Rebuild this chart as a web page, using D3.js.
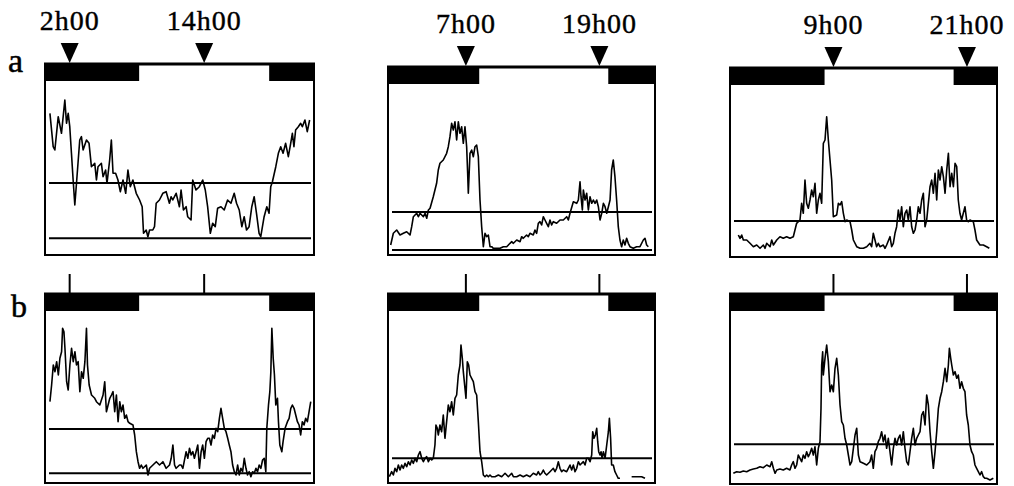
<!DOCTYPE html>
<html>
<head>
<meta charset="utf-8">
<script src="https://cdn.jsdelivr.net/npm/d3@7"></script>
<style>
  html, body { margin: 0; padding: 0; background: #fff; }
  svg { display: block; }
  text { font-family: "Liberation Serif", "Times New Roman", Times, serif; fill: #000; }
</style>
</head>
<body>
<svg id="chart" width="1014" height="486"></svg>
<script>
// Row labels and sampling times marked above each record
const rowLabels = ["a", "b"];
const sampleHours = [[2, 14], [7, 19], [9, 21]];
const sampleLabels = [["2h00", "14h00"], ["7h00", "19h00"], ["9h00", "21h00"]];

// Dark phases of the light/dark cycle (clock hours)
const darkPeriods = [[-1, 8.2], [19.8, 25]];

// Clock hour at the left edge of each 24 h record (by column)
const recordStart = [-0.2, 0, -0.3];

// Reference levels: mean activity and baseline (arbitrary units), rows a / b
const meanLevels = [[72, 43, 36], [54, 24.7, 39.7]];
const baseLevels = [[16.7, 5, null], [9.7, null, null]];

// Activity traces: [clock hour, activity (a.u.)]
const traceA1 = [[0.24,141.7],[0.53,108.3],[0.68,105],[0.98,138.3],[1.27,121.7],[1.57,155],[1.72,131.7],[1.87,141.7],[2.01,128.3],[2.16,101.7],[2.31,75],[2.46,50],[2.61,71.7],[2.9,115],[3.05,118.3],[3.2,105],[3.5,115],[3.73,111.7],[3.94,88.3],[4.24,91.7],[4.39,75],[4.53,88.3],[4.83,91.7],[4.98,78.3],[5.21,85],[5.33,71.7],[5.57,95],[5.72,115],[5.87,81.7],[6.1,81.7],[6.31,75],[6.52,63.3],[6.76,75],[7.0,61.7],[7.2,85],[7.41,68.3],[7.64,75],[7.79,68.3],[7.94,61.7],[8.24,55],[8.47,48.3],[8.59,21.7],[8.83,25],[8.98,18.3],[9.13,25],[9.42,25],[9.57,28.3],[9.72,51.7],[10.01,55],[10.31,61.7],[10.61,63.3],[10.9,51.7],[11.05,58.3],[11.2,55],[11.5,61.7],[11.79,48.3],[11.94,65],[12.15,45],[12.39,48.3],[12.53,38.3],[12.83,35],[12.98,75],[13.27,65],[13.57,68.3],[13.87,75],[14.1,65],[14.31,48.3],[14.55,21.7],[14.76,31.7],[14.99,28.3],[15.2,46.7],[15.5,48.3],[15.79,45],[16.09,55],[16.39,51.7],[16.68,61.7],[16.89,51.7],[17.13,45],[17.36,28.3],[17.57,38.3],[17.78,25],[18.01,28.3],[18.25,48.3],[18.46,58.3],[18.67,41.7],[18.9,21.7],[19.05,18.3],[19.35,38.3],[19.59,48.3],[19.79,41.7],[19.94,68.3],[20.09,73.3],[20.39,88.3],[20.62,101.7],[20.83,108.3],[21.04,101.7],[21.27,111.7],[21.51,98.3],[21.72,111.7],[21.87,121.7],[22.01,108.3],[22.16,125],[22.4,128.3],[22.61,131.7],[22.76,128.3],[22.99,135],[23.2,123.3],[23.41,135]];

const traceA2 = [[0.24,10],[0.48,21.7],[0.78,25],[1.08,20],[1.38,21.7],[1.68,23.3],[1.98,20],[2.13,28.3],[2.28,38.3],[2.58,41.7],[2.73,38.3],[2.88,41.7],[3.18,38.3],[3.33,41.7],[3.48,36.7],[3.63,45],[3.78,46.7],[4.07,58.3],[4.37,71.7],[4.52,85],[4.67,91.7],[4.97,95],[5.27,101.7],[5.42,108.3],[5.57,118.3],[5.72,131.7],[5.87,125],[6.02,133.3],[6.17,115],[6.32,133.3],[6.47,121.7],[6.62,128.3],[6.77,111.7],[6.92,128.3],[7.07,108.3],[7.16,81.7],[7.22,61.7],[7.37,101.7],[7.52,105],[7.67,98.3],[7.82,108.3],[7.97,110],[8.12,98.3],[8.27,55],[8.42,28.3],[8.57,8.3],[8.72,21.7],[8.87,18.3],[9.02,20],[9.17,8.3],[9.32,8.3],[9.47,6.7],[9.77,6.7],[10.07,6.7],[10.37,8.3],[10.67,8.3],[10.97,11.7],[11.12,13.3],[11.27,11.7],[11.57,15],[11.87,13.3],[12.01,18.3],[12.16,16.7],[12.46,20],[12.61,18.3],[12.76,21.7],[13.06,20],[13.21,25],[13.36,21.7],[13.51,31.7],[13.66,33.3],[13.81,30],[13.96,38.3],[14.11,35],[14.26,31.7],[14.41,28.3],[14.56,35],[14.71,30],[14.86,33.3],[15.16,31.7],[15.46,35],[15.76,35],[16.06,38.3],[16.21,35],[16.36,41.7],[16.66,53.3],[16.96,51.7],[17.11,55],[17.26,73.3],[17.35,58.3],[17.47,45],[17.56,65],[17.71,55],[17.86,61.7],[18.01,45],[18.16,58.3],[18.31,51.7],[18.46,55],[18.61,51.7],[18.76,55],[18.91,48.3],[19.06,35],[19.21,41.7],[19.36,51.7],[19.51,48.3],[19.66,41.7],[19.81,48.3],[19.96,55],[20.1,85],[20.25,95],[20.4,78.3],[20.55,55],[20.7,28.3],[20.85,15],[21.0,8.3],[21.15,15],[21.3,10],[21.45,16.7],[21.6,11.7],[21.75,8.3],[22.05,6.7],[22.35,8.3],[22.65,8.3],[22.95,15],[23.1,16.7],[23.25,10],[23.4,8.3]];

const traceA3 = [[0.45,22],[0.6,18.7],[0.75,22],[0.9,17],[1.2,17],[1.5,13.7],[1.8,10.3],[2.1,12],[2.4,8.7],[2.7,12],[2.85,8.7],[3.0,13.7],[3.3,10.3],[3.45,17],[3.6,12],[3.9,17],[4.19,20.3],[4.49,18.7],[4.79,20.3],[5.09,18.7],[5.39,20.3],[5.54,27],[5.69,33.7],[5.84,35.3],[5.99,37],[6.14,53.7],[6.29,43.7],[6.44,77],[6.59,53.7],[6.74,48.7],[6.89,57],[7.04,67],[7.19,60.3],[7.34,73.7],[7.49,43.7],[7.64,57],[7.79,63.7],[7.94,53.7],[8.09,113.7],[8.24,117],[8.39,140.3],[8.54,117],[8.69,97],[8.84,77],[8.99,40.3],[9.29,42],[9.44,53.7],[9.59,52],[9.74,55.3],[9.89,43.7],[10.04,35.3],[10.19,37],[10.49,35.3],[10.64,27],[10.79,17],[11.09,10.3],[11.39,8.7],[11.69,8.7],[11.99,10.3],[12.28,13.7],[12.43,10.3],[12.58,23.7],[12.73,17],[12.88,10.3],[13.03,13.7],[13.18,10.3],[13.48,12],[13.63,8.7],[13.78,12],[14.08,20.3],[14.23,10.3],[14.38,13.7],[14.53,23.7],[14.68,30.3],[14.83,47],[14.98,37],[15.13,50.3],[15.28,30.3],[15.43,43.7],[15.58,47],[15.73,37],[15.88,50.3],[16.03,30.3],[16.18,23.7],[16.33,27],[16.48,37],[16.63,50.3],[16.78,43.7],[16.93,57],[17.08,63.7],[17.23,30.3],[17.38,37],[17.53,53.7],[17.68,70.3],[17.83,77],[17.98,63.7],[18.13,83.7],[18.28,57],[18.43,87],[18.58,77],[18.73,90.3],[18.88,80.3],[19.03,63.7],[19.18,87],[19.33,103.7],[19.48,70.3],[19.63,83.7],[19.78,70.3],[19.93,93.7],[20.08,90.3],[20.22,57],[20.37,43.7],[20.52,37],[20.67,43.7],[20.82,50.3],[20.97,37],[21.12,35.3],[21.27,37],[21.57,35.3],[21.72,27],[21.87,17],[22.17,12],[22.47,12],[22.77,10.3],[23.01,8.7]];

const traceB1 = [[0.24,81.3],[0.39,98],[0.54,118],[0.69,111.3],[0.84,121.3],[0.99,108],[1.13,124.7],[1.28,131.3],[1.37,154.7],[1.49,151.3],[1.58,134.7],[1.73,101.3],[1.87,93],[2.02,118],[2.17,134.7],[2.32,121.3],[2.47,131.3],[2.61,118],[2.76,121.3],[2.91,91.3],[3.06,111.3],[3.21,104.7],[3.36,121.3],[3.5,154.7],[3.59,118],[3.74,98],[3.95,88],[4.24,84.7],[4.39,81.3],[4.69,78],[4.98,88],[5.13,101.3],[5.28,71.3],[5.43,78],[5.58,84.7],[5.73,88],[5.87,91.3],[6.02,71.3],[6.17,88],[6.32,61.3],[6.47,81.3],[6.61,71.3],[6.76,78],[6.91,64.7],[7.06,68],[7.21,61.3],[7.36,59.7],[7.65,58],[7.8,48],[7.95,31.3],[8.1,21.3],[8.24,14.7],[8.39,18],[8.54,14.7],[8.84,18],[8.99,8],[9.13,14.7],[9.43,18],[9.73,21.3],[10.02,18],[10.32,21.3],[10.61,14.7],[10.91,18],[11.06,24.7],[11.21,38],[11.36,18],[11.5,14.7],[11.8,18],[11.95,18],[12.1,14.7],[12.39,31.3],[12.54,24.7],[12.69,34.7],[12.84,28],[12.99,31.3],[13.13,24.7],[13.28,31.3],[13.43,38],[13.58,14.7],[13.73,31.3],[13.87,38],[14.02,24.7],[14.17,41.3],[14.32,44.7],[14.47,44.7],[14.61,38],[14.76,48],[14.91,44.7],[15.06,54.7],[15.21,51.3],[15.36,64.7],[15.5,74.7],[15.65,64.7],[15.8,54.7],[15.95,51.3],[16.1,44.7],[16.24,38],[16.39,31.3],[16.54,18],[16.69,11.3],[16.84,8],[16.99,18],[17.13,8],[17.28,14.7],[17.43,11.3],[17.58,24.7],[17.73,14.7],[17.87,8],[18.02,11.3],[18.17,6.3],[18.32,11.3],[18.47,9.7],[18.62,14.7],[18.76,11.3],[18.91,18],[19.06,14.7],[19.21,23],[19.36,24.7],[19.5,11.3],[19.59,54.7],[19.74,78],[19.86,91.3],[19.95,111.3],[20.04,154.7],[20.16,124.7],[20.27,108],[20.39,78],[20.54,84.7],[20.63,61.3],[20.75,38],[20.93,31.3],[21.04,41.3],[21.22,54.7],[21.43,61.3],[21.58,64.7],[21.73,74.7],[21.87,78],[22.02,74.7],[22.17,68],[22.32,61.3],[22.47,58],[22.61,48],[22.76,61.3],[22.91,58],[23.06,64.7],[23.21,61.3],[23.36,71.3],[23.51,81.3]];

const traceB2 = [[0.12,6.3],[0.33,11.3],[0.48,8],[0.63,14.7],[0.78,11.3],[0.93,18],[1.08,13],[1.23,18],[1.38,14.7],[1.53,19.7],[1.68,16.3],[1.83,21.3],[1.98,18],[2.13,23],[2.28,19.7],[2.43,24.7],[2.58,21.3],[2.73,28],[2.88,31.3],[3.03,24.7],[3.18,21.3],[3.33,24.7],[3.48,26.3],[3.63,21.3],[3.78,24.7],[3.93,23],[4.07,24.7],[4.22,38],[4.31,58],[4.43,54.7],[4.52,48],[4.67,58],[4.82,51.3],[4.97,68],[5.12,44.7],[5.27,61.3],[5.42,78],[5.57,71.3],[5.72,81.3],[5.87,68],[6.02,84.7],[6.17,88],[6.32,108],[6.47,118],[6.56,138],[6.68,124.7],[6.77,111.3],[6.92,94.7],[7.01,84.7],[7.13,121.3],[7.25,118],[7.37,108],[7.52,104.7],[7.67,101.3],[7.82,91.3],[7.97,88],[8.12,61.3],[8.27,31.3],[8.42,21.3],[8.57,8],[8.72,6.3],[8.87,8],[9.02,6.3],[9.17,8],[9.32,6.3],[9.62,6.3],[9.92,8],[10.22,6.3],[10.52,9.7],[10.82,6.3],[10.97,8],[11.12,9.7],[11.27,6.3],[11.57,6.3],[11.87,8],[12.16,6.3],[12.46,8],[12.76,6.3],[13.06,9.7],[13.36,8],[13.51,11.3],[13.66,8],[13.81,9.7],[13.96,13],[14.11,9.7],[14.26,8],[14.56,11.3],[14.86,14.7],[15.01,11.3],[15.16,14.7],[15.31,21.3],[15.46,14.7],[15.61,11.3],[15.76,13],[16.06,11.3],[16.21,14.7],[16.36,18],[16.51,13],[16.66,18],[16.81,11.3],[16.96,14.7],[17.11,21.3],[17.26,18],[17.41,19.7],[17.56,21.3],[17.71,18],[17.86,24.7],[18.01,24.7],[18.16,21.3],[18.31,28],[18.4,51.3],[18.52,44.7],[18.64,48],[18.76,54.7],[18.85,41.3],[18.94,31.3],[19.06,28],[19.15,31.3],[19.24,24.7],[19.36,31.3],[19.51,24.7],[19.66,38],[19.81,51.3],[19.9,64.7],[20.01,44.7],[20.1,18],[20.25,18],[20.4,11.3],[20.55,8],[20.7,4.7],[20.85,4.7],[21.3,null],[21.9,6.3],[22.2,6.3],[22.5,6.3],[22.8,6.3],[23.1,4.7]];

const traceB3 = [[0.0,10.7],[0.3,12.3],[0.6,11.7],[0.9,13],[1.2,12.3],[1.5,14],[1.8,15],[2.1,15.7],[2.4,17.3],[2.7,16.3],[3.0,19],[3.3,17.3],[3.45,22.3],[3.6,15.7],[3.75,10.7],[3.9,14],[4.19,15],[4.49,14],[4.79,15.7],[5.09,14],[5.24,19],[5.39,22.3],[5.54,15.7],[5.69,19],[5.84,29],[5.99,25.7],[6.14,22.3],[6.29,29],[6.44,25.7],[6.59,32.3],[6.74,27.3],[6.89,30.7],[7.04,35.7],[7.19,29],[7.34,37.3],[7.49,19],[7.64,35.7],[7.79,42.3],[7.88,75.7],[7.94,119],[8.03,132.3],[8.09,109],[8.24,125.7],[8.39,139],[8.54,122.3],[8.69,92.3],[8.84,99],[8.99,92.3],[9.14,115.7],[9.29,125.7],[9.44,109],[9.59,79],[9.74,62.3],[9.89,59],[10.04,45.7],[10.19,39],[10.34,29],[10.49,19],[10.64,22.3],[10.79,35.7],[10.94,49],[11.09,55.7],[11.24,29],[11.39,22.3],[11.69,20.7],[11.99,19],[12.28,22.3],[12.43,29],[12.58,15.7],[12.73,32.3],[12.88,35.7],[13.03,42.3],[13.18,45.7],[13.33,52.3],[13.48,42.3],[13.63,49],[13.78,35.7],[13.93,45.7],[14.08,32.3],[14.23,19],[14.38,35.7],[14.53,45.7],[14.68,39],[14.83,45.7],[14.98,49],[15.13,39],[15.28,52.3],[15.43,35.7],[15.58,22.3],[15.73,19],[15.88,32.3],[16.03,45.7],[16.18,55.7],[16.33,39],[16.48,45.7],[16.63,49],[16.78,52.3],[16.93,69],[17.08,72.3],[17.23,59],[17.38,89],[17.53,79],[17.68,52.3],[17.83,32.3],[17.98,15.7],[18.13,32.3],[18.28,52.3],[18.43,75.7],[18.58,85.7],[18.73,92.3],[18.88,102.3],[19.03,115.7],[19.18,102.3],[19.33,119],[19.42,135.7],[19.54,125.7],[19.63,119],[19.78,109],[19.93,112.3],[20.08,105.7],[20.22,109],[20.37,95.7],[20.52,102.3],[20.67,95.7],[20.82,92.3],[20.97,69],[21.12,59],[21.27,39],[21.42,32.3],[21.57,29],[21.72,19],[21.87,15.7],[22.02,12.3],[22.17,9],[22.32,12.3],[22.47,7.3],[22.62,5.7],[22.77,5.7],[23.07,4],[23.37,5.7]];

const traces = [[traceA1, traceA2, traceA3], [traceB1, traceB2, traceB3]];

// ---- layout ----
const colLeft = [45, 388, 730];
const colWidth = [269, 267, 267];
const barTop = [[63, 66, 67], [293, 293, 293]];
const boxBottom = [[255, 255, 257], [483, 483, 484]];
const barHeight = 18;
const plotSpan = 174;

const svg = d3.select("#chart");

rowLabels.forEach((lab, r) => {
  svg.append("text")
    .attr("x", r === 0 ? 8 : 11)
    .attr("y", r === 0 ? 72 : 317)
    .attr("font-size", r === 0 ? 34 : 32)
    .attr("stroke", "#000")
    .attr("stroke-width", 0.5)
    .text(lab);
});

const line = d3.line()
  .defined(d => d[1] != null)
  .x(d => d[0])
  .y(d => d[1]);

for (let r = 0; r < 2; r++) {
  for (let c = 0; c < 3; c++) {
    const left = colLeft[c], right = colLeft[c] + colWidth[c];
    const top = barTop[r][c], bottom = boxBottom[r][c];
    const x = d3.scaleLinear()
      .domain([recordStart[c], recordStart[c] + 24])
      .range([left, right])
      .clamp(true);
    const y = d3.scaleLinear().domain([0, plotSpan]).range([bottom, bottom - plotSpan]);
    const g = svg.append("g");

    // light/dark bar
    g.selectAll("rect.dark").data(darkPeriods).join("rect")
      .attr("class", "dark")
      .attr("x", d => x(d[0]))
      .attr("y", top)
      .attr("width", d => x(d[1]) - x(d[0]))
      .attr("height", barHeight)
      .attr("fill", "#000");

    // reference levels
    const levels = [meanLevels[r][c], baseLevels[r][c]].filter(v => v != null);
    g.selectAll("line.level").data(levels).join("line")
      .attr("class", "level")
      .attr("x1", left + 4).attr("x2", right - 3)
      .attr("y1", d => y(d)).attr("y2", d => y(d))
      .attr("stroke", "#000").attr("stroke-width", 2);

    // activity trace
    g.append("path")
      .attr("d", line(traces[r][c].map(d => [x(d[0]), d[1] == null ? null : y(d[1])])))
      .attr("fill", "none")
      .attr("stroke", "#000")
      .attr("stroke-width", 1.6)
      .attr("stroke-linejoin", "round");

    // frame
    g.append("path")
      .attr("d", `M${left},${top}V${bottom}H${right}V${top}`)
      .attr("fill", "none").attr("stroke", "#000").attr("stroke-width", 2);
    g.append("line")
      .attr("x1", left - 1).attr("x2", right + 1)
      .attr("y1", top + 1).attr("y2", top + 1)
      .attr("stroke", "#000").attr("stroke-width", 3);

    // sampling times
    sampleHours[c].forEach((h, i) => {
      const px = x(h);
      if (r === 0) {
        g.append("path")
          .attr("d", `M${px - 9},${top - 20}L${px + 9},${top - 20}L${px},${top}Z`)
          .attr("fill", "#000");
        g.append("text")
          .attr("x", px).attr("y", top - 33)
          .attr("text-anchor", "middle")
          .attr("font-size", 28)
          .attr("letter-spacing", 1)
          .attr("stroke", "#000")
          .attr("stroke-width", 0.4)
          .text(sampleLabels[c][i]);
      } else {
        g.append("line")
          .attr("x1", px).attr("x2", px)
          .attr("y1", top - 19).attr("y2", top)
          .attr("stroke", "#000").attr("stroke-width", 2);
      }
    });
  }
}
</script>
</body>
</html>
